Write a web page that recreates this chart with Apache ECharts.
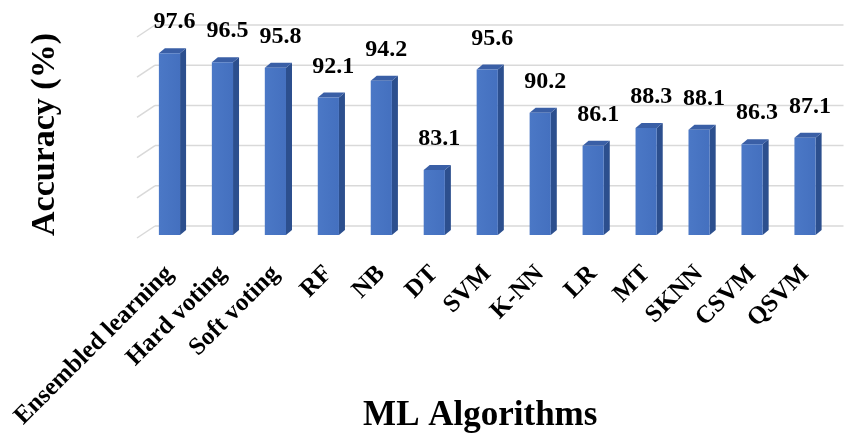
<!DOCTYPE html>
<html><head><meta charset="utf-8">
<script src="https://cdn.jsdelivr.net/npm/echarts@6/dist/echarts.min.js"></script>
<style>html,body{margin:0;padding:0;background:#fff}#c{width:850px;height:440px}</style>
</head><body><div id="c"></div>
<script>
const categories = ['Ensembled learning','Hard voting','Soft voting','RF','NB','DT','SVM','K-NN','LR','MT','SKNN','CSVM','QSVM'];
const accuracy = [97.6, 96.5, 95.8, 92.1, 94.2, 83.1, 95.6, 90.2, 86.1, 88.3, 88.1, 86.3, 87.1];
const yTicks = [75, 80, 85, 90, 95, 100];

const FONT = '"Liberation Serif", "Times New Roman", serif';
const DX = 6, DY = 5;

const chart = echarts.init(document.getElementById('c'), null, {renderer: 'canvas'});
chart.setOption({
  animation: false,
  grid: {left: 143, right: 18.5, top: 34, bottom: 205, containLabel: false, outerBoundsMode: 'none'},
  xAxis: {
    type: 'category', data: categories,
    axisLine: {show: false}, axisTick: {show: false}, splitLine: {show: false},
    axisLabel: {rotate: 45, margin: 35, fontFamily: FONT, fontWeight: 'bold', fontSize: 25, color: '#000', interval: 0},
    name: 'ML Algorithms', nameLocation: 'middle', nameGap: 163, nameMoveOverlap: false,
    nameTextStyle: {fontFamily: FONT, fontWeight: 'bold', fontSize: 35, color: '#000', padding: [0, 14, 0, 0]}
  },
  yAxis: {
    type: 'value', min: 75, max: 100, interval: 5,
    axisLine: {show: false}, axisTick: {show: false}, axisLabel: {show: false}, splitLine: {show: false},
    name: 'Accuracy (%)', nameLocation: 'middle', nameGap: 81, nameRotate: 90, nameMoveOverlap: false,
    nameTextStyle: {fontFamily: FONT, fontWeight: 'bold', fontSize: 34, color: '#000'}
  },
  series: [
    {
      type: 'custom', z: 1, silent: true,
      data: yTicks.map(v => [0, v]),
      encode: {x: 0, y: 1},
      renderItem: function (params, api) {
        const cs = params.coordSys;
        const y = api.coord([0, api.value(1)])[1] - 9;
        const x0 = cs.x + 12, x1 = cs.x + cs.width + 12;
        return {type: 'group', children: [
          {type: 'line', shape: {x1: x0, y1: y, x2: x1, y2: y}, style: {stroke: '#d9d9d9', lineWidth: 1.5}},
          {type: 'line', shape: {x1: x0, y1: y, x2: cs.x - 6, y2: y + 12}, style: {stroke: '#d9d9d9', lineWidth: 1.5}}
        ]};
      }
    },
    {
      type: 'custom', z: 2,
      data: accuracy.map((v, i) => [i, v]),
      encode: {x: 0, y: 1},
      renderItem: function (params, api) {
        const i = api.value(0), v = api.value(1);
        const top = api.coord([i, v]);
        const base = api.coord([i, 75]);
        const bw = api.size([1, 0])[0] * 0.4;
        const l = top[0] - bw / 2, r = l + bw;
        return {type: 'group', children: [
          {type: 'polygon', shape: {points: [[r, top[1]], [r + DX, top[1] - DY], [r + DX, base[1] - DY], [r, base[1]]]},
            style: {fill: '#2c4f8e'}},
          {type: 'polygon', shape: {points: [[l, top[1]], [l + DX, top[1] - DY], [r + DX, top[1] - DY], [r, top[1]]]},
            style: {fill: '#3a5fa6'}},
          {type: 'rect', shape: {x: l, y: top[1], width: bw, height: base[1] - top[1]},
            style: {fill: new echarts.graphic.LinearGradient(0, 0, 1, 0, [{offset: 0, color: '#4b78c6'}, {offset: 1, color: '#4470bf'}])}},
          {type: 'text', x: top[0] + 5, y: top[1] - 31,
            style: {text: String(v), fontFamily: FONT, fontWeight: 'bold', fontSize: 24, fill: '#000', align: 'center', verticalAlign: 'middle'}}
        ]};
      }
    }
  ]
});
</script></body></html>
